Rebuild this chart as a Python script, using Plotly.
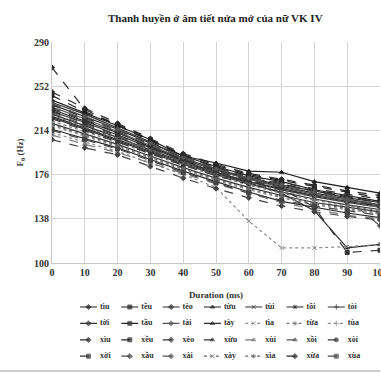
import plotly.graph_objects as go

# ---------------- data ----------------
durations = [0, 10, 20, 30, 40, 50, 60, 70, 80, 90, 100]
y_ticks = [100, 138, 176, 214, 252, 290]

tiu   = [232, 222, 212, 200, 189, 180, 172, 166, 160, 155, 150]
teu   = [236, 226, 215, 203, 192, 183, 175, 170, 163, 158, 153]
teo   = [228, 218, 208, 197, 187, 178, 170, 163, 157, 152, 148]
tuu   = [240, 229, 218, 206, 192, 186, 179, 178, 170, 165, 160]
tui   = [225, 215, 205, 195, 185, 176, 168, 161, 155, 150, 146]
tooi  = [238, 228, 216, 204, 190, 181, 173, 167, 162, 156, 152]
toi   = [220, 211, 202, 192, 182, 173, 165, 158, 152, 148, 144]
toii  = [230, 221, 210, 199, 188, 178, 170, 164, 158, 153, 149]
tau   = [215, 207, 199, 189, 179, 170, 161, 153, 148, 143, 139]
tai   = [234, 224, 213, 201, 190, 180, 172, 165, 159, 154, 150]
tay   = [226, 216, 206, 196, 186, 177, 169, 160, 145, 113, 116]
tia   = [212, 204, 196, 186, 176, 165, 136, 113, 113, 114, 116]
tua   = [222, 213, 204, 194, 184, 175, 167, 160, 154, 149, 145]
tuaa  = [218, 209, 200, 190, 180, 171, 163, 156, 150, 146, 142]
xiu   = [268, 232, 218, 205, 192, 182, 174, 168, 162, 157, 153]
xeu   = [244, 230, 219, 206, 193, 184, 176, 171, 166, 161, 156]
xeo   = [233, 223, 212, 200, 189, 180, 173, 168, 162, 157, 152]
xuu   = [236, 225, 214, 202, 191, 182, 175, 169, 164, 159, 155]
xui   = [210, 202, 195, 186, 177, 168, 160, 152, 146, 141, 138]
xooi  = [229, 219, 209, 198, 187, 178, 171, 165, 160, 155, 151]
xoi   = [224, 214, 204, 194, 184, 175, 168, 163, 158, 153, 149]
xoii  = [231, 220, 210, 199, 188, 179, 171, 164, 148, 109, 111]
xau   = [206, 199, 193, 183, 173, 164, 156, 149, 144, 140, 137]
xai   = [237, 226, 215, 203, 191, 181, 173, 167, 161, 155, 132]
xay   = [227, 217, 207, 197, 186, 176, 168, 162, 157, 152, 148]
xia   = [219, 210, 201, 191, 181, 172, 164, 157, 151, 147, 143]
xua   = [247, 233, 220, 207, 194, 185, 177, 172, 167, 162, 158]
xuaa  = [214, 206, 198, 188, 178, 169, 160, 154, 149, 145, 141]

labels = ["tìu", "tều", "tèo", "từu", "tùi", "tồi", "tòi",
          "tời", "tầu", "tài", "tày", "tìa", "từa", "tùa",
          "xìu", "xều", "xèo", "xừu", "xùi", "xồi", "xòi",
          "xời", "xầu", "xài", "xày", "xìa", "xừa", "xùa"]
series = [tiu, teu, teo, tuu, tui, tooi, toi,
          toii, tau, tai, tay, tia, tua, tuaa,
          xiu, xeu, xeo, xuu, xui, xooi, xoi,
          xoii, xau, xai, xay, xia, xua, xuaa]

# ---------------- styles ----------------
colors = ["#1e1e1e", "#1e1e1e", "#2a2a2a", "#1e1e1e", "#333333", "#2a2a2a", "#333333",
          "#333333", "#2a2a2a", "#555555", "#2a2a2a", "#8a8a8a", "#7a7a7a", "#8a8a8a",
          "#2a2a2a", "#1e1e1e", "#333333", "#333333", "#777777", "#555555", "#333333",
          "#333333", "#444444", "#555555", "#666666", "#666666", "#2a2a2a", "#444444"]
dashes = ["solid"] * 7 + ["solid", "solid", "solid", "solid", "dot", "dot", "dot"] + \
         ["dash"] * 7 + ["dash", "dash", "dash", "dot", "dot", "dash", "dash"]
symbols = ["diamond", "square", "diamond", "triangle-up", "x-thin-open", "asterisk-open", "cross-thin-open",
           "diamond", "square", "diamond", "triangle-up", "x-thin-open", "asterisk-open", "cross-thin-open",
           "diamond", "square", "diamond", "triangle-up", "triangle-up", "triangle-up", "circle",
           "square", "diamond", "diamond", "x-thin-open", "asterisk-open", "diamond", "square"]

W, H = 381, 376
ML, MR, MT, MB = 52, 1, 42, 10
plot_h = H - MT - MB
axis_bottom_px = 263
main_dom_bottom = (H - MB - axis_bottom_px) / plot_h
leg_dom_top = 0.27

fig = go.Figure()

for name, vals, c, d, s in zip(labels, series, colors, dashes, symbols):
    fig.add_trace(go.Scatter(
        x=durations, y=vals, name=name, mode="lines+markers",
        line=dict(color=c, width=1.2, dash=d),
        marker=dict(symbol=s, size=4, color=c, line=dict(color=c, width=1)),
        showlegend=False, xaxis="x", yaxis="y"))

# ---------------- custom legend in hidden axes (pixel units, y measured from bottom) ----------------
n_cols = 7
col0, col_step = 80, 41.3
row0, row_step = 307, 16.4
seg = 17
for i, (name, c, d, s) in enumerate(zip(labels, colors, dashes, symbols)):
    r, k = divmod(i, n_cols)
    x0 = col0 + k * col_step
    yy = H - (row0 + r * row_step)
    fig.add_trace(go.Scatter(
        x=[x0, x0 + seg / 2, x0 + seg], y=[yy, yy, yy], mode="lines+markers",
        line=dict(color=c, width=1.2, dash=d),
        marker=dict(symbol=s, size=[0, 4, 0], color=c, line=dict(color=c, width=1)),
        showlegend=False, hoverinfo="skip", xaxis="x2", yaxis="y2"))
    fig.add_trace(go.Scatter(
        x=[x0 + seg + 3], y=[yy], mode="text", text=[f"<b>{name}</b>"],
        textposition="middle right",
        textfont=dict(family="Liberation Serif", size=8, color="#333333"),
        showlegend=False, hoverinfo="skip", xaxis="x2", yaxis="y2"))

axis_font = dict(family="Liberation Serif", size=10, color="#333333")
fig.update_layout(
    width=W, height=H,
    margin=dict(l=ML, r=MR, t=MT, b=MB, autoexpand=False),
    paper_bgcolor="white", plot_bgcolor="white",
    title=dict(text="<b>Thanh huyền ở âm tiết nửa mở của nữ VK IV</b>",
               font=dict(family="Liberation Serif", size=11, color="#222222"),
               x=0.565, xanchor="center", y=0.952, yanchor="middle"),
    xaxis=dict(domain=[0, 1], range=[0, 100], tickvals=durations,
               ticktext=[f"<b>{v}</b>" for v in durations], ticklabeloverflow="allow",
               automargin=False,
               tickfont=axis_font, showgrid=True, gridcolor="#d4d4d4", gridwidth=1,
               showline=True, linecolor="#c8c8c8", zeroline=False, ticks="",
               title=dict(text="<b>Duration (ms)</b>",
                          font=dict(family="Liberation Serif", size=9, color="#333333"),
                          standoff=14),
               anchor="y"),
    yaxis=dict(domain=[main_dom_bottom, 1], range=[100, 290], tickvals=y_ticks,
               ticktext=[f"<b>{v}</b>" for v in y_ticks], automargin=False,
               tickfont=axis_font, showgrid=True, gridcolor="#d4d4d4", gridwidth=1,
               showline=True, linecolor="#c8c8c8", zeroline=False, ticks="",
               title=dict(text="<b>F<sub>0</sub> (Hz)</b>",
                          font=dict(family="Liberation Serif", size=9, color="#333333"),
                          standoff=8),
               anchor="x"),
    xaxis2=dict(domain=[0, 1], range=[ML, W - MR], autorange=False, visible=False,
                automargin=False, anchor="y2", fixedrange=True),
    yaxis2=dict(domain=[0, leg_dom_top], range=[MB, MB + leg_dom_top * plot_h], autorange=False,
                automargin=False, visible=False, anchor="x2", fixedrange=True),
    shapes=[dict(type="line", xref="paper", yref="paper", x0=-0.16, x1=1.0,
                 y0=-0.0154, y1=-0.0154, line=dict(color="#bdbdbd", width=1.5))],
)

fig.write_html("out.html")
